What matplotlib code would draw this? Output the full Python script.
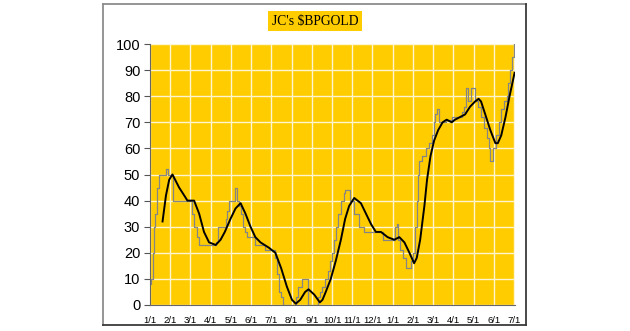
import matplotlib.pyplot as plt
from matplotlib.lines import Line2D

# x positions are months since the first 1/1 (0 .. 18)
month_labels = ['1/1', '2/1', '3/1', '4/1', '5/1', '6/1', '7/1', '8/1', '9/1',
                '10/1', '11/1', '12/1', '1/1', '2/1', '3/1', '4/1', '5/1', '6/1', '7/1']

# daily bullish percent (stepped)
bp_x = [0.00, 0.05, 0.13, 0.18, 0.26, 0.34, 0.46, 0.79, 0.87, 1.15, 2.10, 2.20,
        2.30, 2.43, 3.28, 3.34, 3.74, 3.82, 3.93, 4.21, 4.30, 4.39, 4.49, 4.59,
        4.72, 4.82, 5.21, 5.70, 6.20, 6.30, 6.36, 6.46, 6.56, 7.21, 7.31, 7.54,
        7.80, 8.33, 8.41, 8.53, 8.66, 8.79, 8.91, 9.02, 9.09, 9.19, 9.32, 9.45,
        9.57, 9.65, 9.88, 10.10, 10.35, 10.56, 11.50, 12.13, 12.20, 12.28, 12.36,
        12.50, 12.66, 12.93, 13.02, 13.11, 13.19, 13.26, 13.30, 13.47, 13.63,
        13.80, 13.93, 14.02, 14.10, 14.18, 14.27, 14.63, 14.92, 15.42, 15.55,
        15.63, 15.75, 15.88, 16.05, 16.20, 16.37, 16.53, 16.67, 16.75, 16.82,
        16.98, 17.12, 17.25, 17.37, 17.50, 17.63, 17.72, 17.80, 17.88, 18.00]
bp_y = [8, 10, 20, 30, 35, 45, 50, 52, 50, 40, 35, 30,
        26, 23, 24, 30, 33, 36, 40, 45, 40, 38, 35, 30,
        28, 26, 23, 21, 18, 12, 5, 3, 0, 3, 7, 10,
        0, 3, 5, 7, 10, 13, 17, 20, 25, 30, 35, 40,
        43, 44, 40, 35, 30, 28, 25, 30, 31, 25, 21,
        18, 14, 17, 20, 30, 40, 50, 55, 57, 60,
        62, 65, 70, 73, 75, 70, 71, 72, 74, 76,
        83, 78, 83, 78, 76, 72, 68, 64, 60, 55,
        60, 65, 70, 75, 78, 80, 85, 90, 95, 100]

# moving average
ma_x = [0.62, 0.79, 0.95, 1.11, 1.44, 1.69, 1.85, 2.18, 2.43, 2.67, 2.92, 3.25,
        3.49, 3.70, 3.98, 4.23, 4.48, 4.72, 4.97, 5.21, 5.46, 5.87, 6.20, 6.49,
        6.77, 7.02, 7.21, 7.43, 7.67, 7.84, 8.12, 8.40, 8.53, 8.69, 8.94, 9.19,
        9.44, 9.65, 9.85, 10.10, 10.43, 10.68, 10.93, 11.17, 11.42, 11.75, 12.08,
        12.33, 12.58, 12.83, 13.06, 13.19, 13.36, 13.57, 13.70, 13.87, 14.05,
        14.25, 14.47, 14.67, 14.92, 15.08, 15.33, 15.58, 15.83, 16.08, 16.25,
        16.37, 16.58, 16.83, 17.08, 17.20, 17.37, 17.58, 17.78, 17.92, 18.03]
ma_y = [32, 42, 48, 50, 45, 42, 40, 40, 35, 28, 24, 23,
        25, 28, 33, 37, 39, 35, 30, 26, 24, 22, 20, 14,
        7, 2, 0.5, 2, 5, 6, 4, 1, 2, 5, 10, 17,
        25, 33, 38, 41, 39, 35, 31, 28, 28, 26, 25,
        26, 24, 20, 16, 18, 25, 38, 48, 57, 63,
        67, 70, 71, 70, 71, 72, 73, 76, 78, 79,
        78, 73, 67, 62, 62, 65, 72, 80, 85, 89]

fig = plt.figure(figsize=(6.3, 3.31), dpi=100)
W, H = 630, 331

# chart frame: light top/left, darker right/bottom
def px_line(x0, y0, x1, y1, color):
    fig.lines.append(Line2D([x0 / W, x1 / W], [1 - y0 / H, 1 - y1 / H],
                            transform=fig.transFigure, color=color, linewidth=1.3))

px_line(103, 4, 526, 4, '#8c8c8c')
px_line(103, 4, 103, 325, '#8c8c8c')
px_line(526, 4, 526, 325, '#3a3a3a')
px_line(103, 325, 526, 325, '#3a3a3a')

ax = fig.add_axes([150 / W, 1 - 305 / H, 365 / W, 261 / H])
ax.set_facecolor('#FFCC00')

ax.plot(bp_x, bp_y, color='#858585', linewidth=0.9, drawstyle='steps-post')
ax.plot(ma_x, ma_y, color='black', linewidth=1.4)

ax.set_xlim(0, 18.05)
ax.set_ylim(0, 100)
ax.set_xticks(range(len(month_labels)))
ax.set_xticklabels(month_labels, fontsize=6.8, family='Liberation Sans')
ax.set_yticks(range(0, 101, 10))
ax.set_yticklabels([str(v) for v in range(0, 101, 10)], fontsize=10.5,
                   family='Liberation Sans')
ax.tick_params(axis='x', length=0, pad=8)
ax.tick_params(axis='y', length=4, color='#555555', pad=3)
ax.grid(True, color='#fff6d0', linewidth=1.0)
ax.set_axisbelow(True)
for side in ['top', 'right']:
    ax.spines[side].set_visible(False)
for side in ['left', 'bottom']:
    ax.spines[side].set_color('#666666')
    ax.spines[side].set_linewidth(0.8)

fig.text(315 / W, 1 - 21 / H, "JC's $BPGOLD", ha='center', va='center',
         fontsize=9.8, family='Liberation Serif',
         bbox=dict(facecolor='#FFCC00', edgecolor='none', pad=2.5))

fig.savefig('out.png', dpi=100)
